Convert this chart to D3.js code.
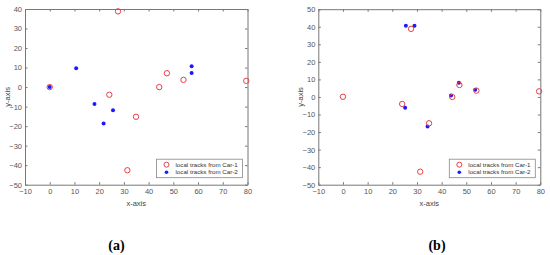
<!DOCTYPE html>
<html>
<head>
<meta charset="utf-8">
<script src="https://cdn.jsdelivr.net/npm/d3@7"></script>
<style>
  body { margin: 0; background: #fff; }
  svg { display: block; }
  .tick text { font-family: "Liberation Sans", Arial, sans-serif; font-size: 7.5px; fill: #555; }
  .axis path, .axis line { stroke: #777; }
</style>
</head>
<body>
<svg id="chart" width="550" height="255"></svg>
<script>
// values
var xTicks = [-10, 0, 10, 20, 30, 40, 50, 60, 70, 80];
var yTicksA = [-50, -40, -30, -20, -10, 0, 10, 20, 30, 40];
var yTicksB = [-50, -40, -30, -20, -10, 0, 10, 20, 30, 40, 50];

var car1A = [[0, 0], [27.6, 38.8], [24.1, -3.9], [34.9, -15.2], [44.3, 0], [47.4, 7.1], [54.1, 3.7], [79.5, 3.2], [31.4, -42.6]];
var car2A = [[0, 0], [10.7, 9.6], [18.1, -8.7], [25.6, -11.8], [21.8, -18.7], [57.4, 10.7], [57.4, 7.2]];

var car1B = [[0, 0.1], [27.6, 38.8], [24, -4], [34.9, -15], [44.3, 0], [47.2, 6.8], [54.1, 3.6], [79.5, 3.2], [31.3, -42.6]];
var car2B = [[25.5, 40.6], [29, 40.6], [25.2, -6.1], [34.3, -16.9], [43.8, 0.8], [47, 8.1], [53.6, 4.1]];

var legendLabels = ["local tracks from Car-1", "local tracks from Car-2"];

var red = "#e8404a", blue = "#1a1aff";
var svg = d3.select("#chart");

drawPanel = function(opt){
	var x = d3.scaleLinear().domain([-10, 80]).range([opt.left, opt.right]);
	var y = d3.scaleLinear().domain(opt.yDomain).range([opt.bottom, opt.top]);
	var g = svg.append("g");

	// bottom & left axes with labels, top & right with ticks only
	g.append("g").attr("class", "axis")
		.attr("transform", "translate(0," + opt.bottom + ")")
		.call(d3.axisBottom(x).tickValues(xTicks).tickSizeInner(-2.5).tickSizeOuter(0).tickPadding(4));
	g.append("g").attr("class", "axis")
		.attr("transform", "translate(" + opt.left + ",0)")
		.call(d3.axisLeft(y).tickValues(opt.yTicks).tickSizeInner(-2.5).tickSizeOuter(0).tickPadding(3));
	g.append("g").attr("class", "axis")
		.attr("transform", "translate(0," + opt.top + ")")
		.call(d3.axisTop(x).tickValues(xTicks).tickSizeInner(-2.5).tickSizeOuter(0).tickFormat(""));
	g.append("g").attr("class", "axis")
		.attr("transform", "translate(" + opt.right + ",0)")
		.call(d3.axisRight(y).tickValues(opt.yTicks).tickSizeInner(-2.5).tickSizeOuter(0).tickFormat(""));

	g.selectAll(".axis .domain").attr("stroke", "#777");

	// axis titles
	g.append("text")
		.attr("x", (opt.left + opt.right) / 2)
		.attr("y", opt.bottom + 21)
		.attr("text-anchor", "middle")
		.style("font-family", "Liberation Sans, Arial, sans-serif")
		.style("font-size", "7.5px")
		.attr("fill", "#444")
		.text("x-axis");
	g.append("text")
		.attr("transform", "translate(" + (opt.left - 15) + "," + ((opt.top + opt.bottom) / 2) + ") rotate(-90)")
		.attr("text-anchor", "middle")
		.style("font-family", "Liberation Sans, Arial, sans-serif")
		.style("font-size", "7.5px")
		.attr("fill", "#444")
		.text("y-axis");

	// car-2 dots
	g.selectAll(".c2").data(opt.car2).enter().append("circle")
		.attr("cx", function(d){ return x(d[0]); })
		.attr("cy", function(d){ return y(d[1]); })
		.attr("r", 2)
		.attr("fill", blue);

	// car-1 circles
	g.selectAll(".c1").data(opt.car1).enter().append("circle")
		.attr("cx", function(d){ return x(d[0]); })
		.attr("cy", function(d){ return y(d[1]); })
		.attr("r", 2.7)
		.attr("fill", "none")
		.attr("stroke", red)
		.attr("stroke-width", 1);

	// legend
	var lx = opt.right - 91, ly = opt.bottom - 25.5;
	g.append("rect")
		.attr("x", lx).attr("y", ly)
		.attr("width", 86).attr("height", 18.5)
		.attr("fill", "#fff").attr("stroke", "#888").attr("stroke-width", 0.8);
	g.append("circle").attr("cx", lx + 10).attr("cy", ly + 5.5).attr("r", 2.5)
		.attr("fill", "none").attr("stroke", red);
	g.append("circle").attr("cx", lx + 10).attr("cy", ly + 13).attr("r", 1.8)
		.attr("fill", blue);
	g.selectAll(".lg").data(legendLabels).enter().append("text")
		.attr("x", lx + 19)
		.attr("y", function(d, i){ return ly + 7.7 + i * 7.5; })
		.style("font-family", "Liberation Sans, Arial, sans-serif")
		.style("font-size", "6.2px")
		.attr("fill", "#333")
		.text(function(d){ return d; });

	// panel letter
	g.append("text")
		.attr("x", opt.letterX)
		.attr("y", 250)
		.attr("text-anchor", "middle")
		.style("font-family", "Liberation Serif, Times New Roman, serif")
		.style("font-size", "14px")
		.style("font-weight", "bold")
		.attr("fill", "#000")
		.text(opt.letter);
}

drawPanel({left: 25, right: 247.5, top: 9, bottom: 184.7, yDomain: [-50, 40], yTicks: yTicksA,
	car1: car1A, car2: car2A, letter: "(a)", letterX: 116.5});

drawPanel({left: 318.3, right: 540.3, top: 9.2, bottom: 184.7, yDomain: [-50, 50], yTicks: yTicksB,
	car1: car1B, car2: car2B, letter: "(b)", letterX: 437});
</script>
</body>
</html>
